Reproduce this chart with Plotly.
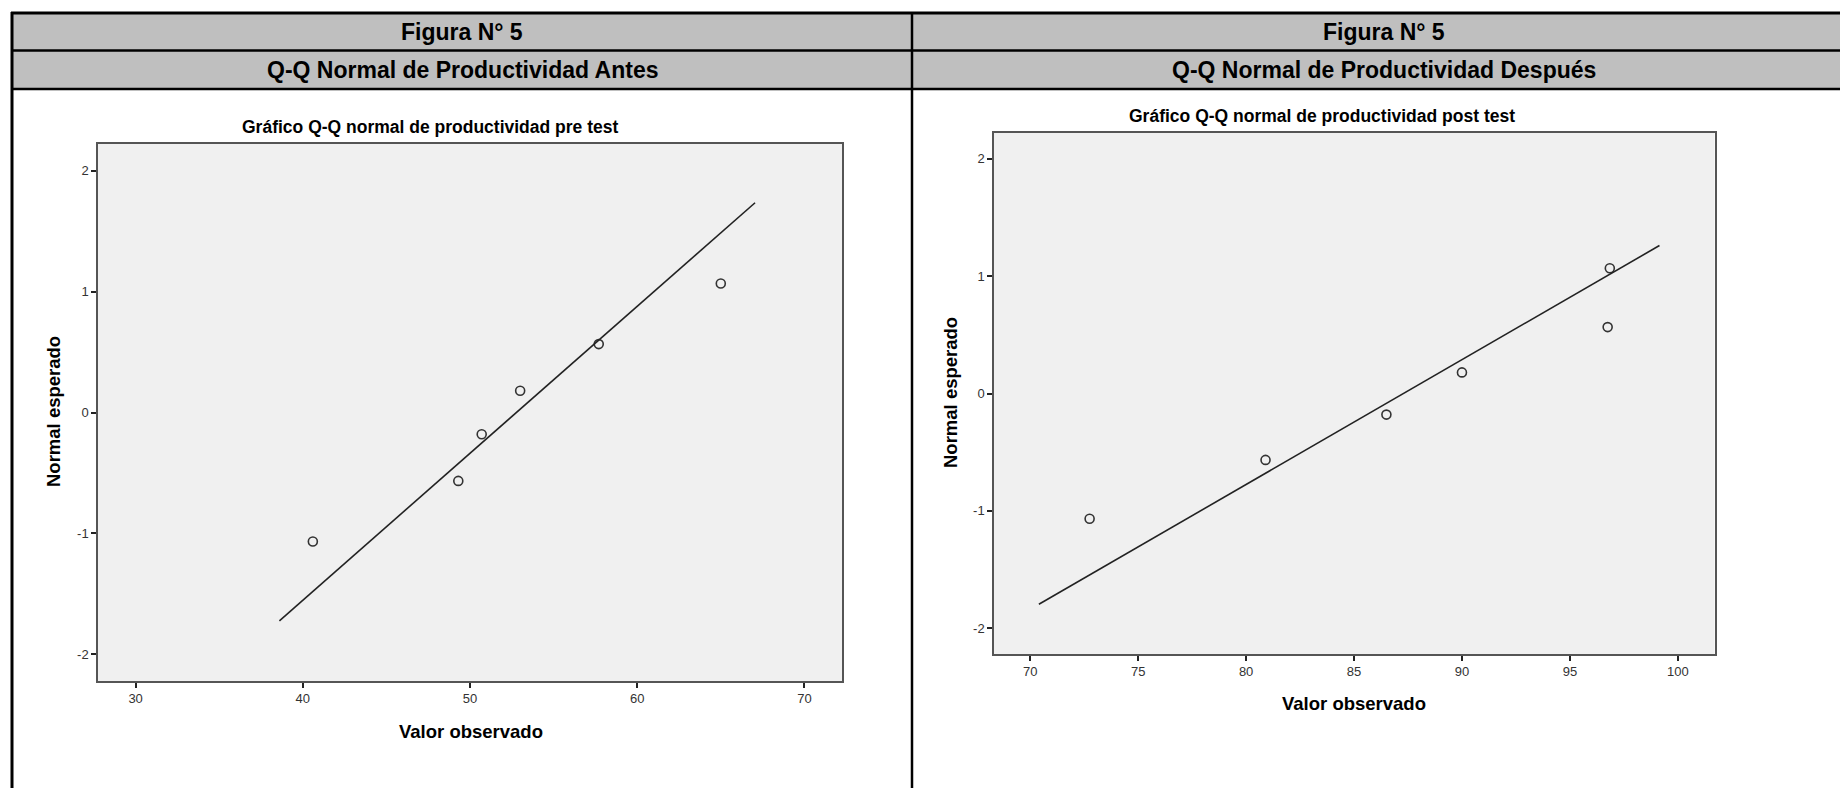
import plotly.graph_objects as go

W, H = 1848, 788

# ---- data ----
pre_observed = [40.6, 49.3, 50.7, 53.0, 57.7, 65.0]
pre_expected = [-1.068, -0.566, -0.180, 0.180, 0.566, 1.068]
pre_line_x = [38.6, 67.05]
pre_line_y = [-1.724, 1.736]

post_observed = [72.75, 80.9, 86.5, 90.0, 96.75, 96.85]
post_expected = [-1.068, -0.566, -0.180, 0.180, 0.566, 1.068]
post_line_x = [70.4, 99.15]
post_line_y = [-1.796, 1.261]

pre_xticks = [30, 40, 50, 60, 70]
post_xticks = [70, 75, 80, 85, 90, 95, 100]
yticks = [-2, -1, 0, 1, 2]
yticklabels = ["-2", "-1", "0", "1", "2"]

header_row1 = ["Figura N° 5", "Figura N° 5"]
header_row2 = ["Q-Q Normal de Productividad Antes", "Q-Q Normal de Productividad Después"]
chart_titles = ["Gráfico Q-Q normal de productividad pre test",
                "Gráfico Q-Q normal de productividad post test"]
x_title = "Valor observado"
y_title = "Normal esperado"


def px(x):
    return x / W


def py(y):
    return 1 - y / H


fig = go.Figure()

marker_style = dict(symbol="circle-open", size=9, color="#333333", line=dict(width=1.6, color="#333333"))

fig.add_trace(go.Scatter(x=pre_observed, y=pre_expected, mode="markers", marker=marker_style,
                         xaxis="x", yaxis="y", showlegend=False))
fig.add_trace(go.Scatter(x=pre_line_x, y=pre_line_y, mode="lines", line=dict(color="#222222", width=1.6),
                         xaxis="x", yaxis="y", showlegend=False))
fig.add_trace(go.Scatter(x=post_observed, y=post_expected, mode="markers", marker=marker_style,
                         xaxis="x2", yaxis="y2", showlegend=False))
fig.add_trace(go.Scatter(x=post_line_x, y=post_line_y, mode="lines", line=dict(color="#222222", width=1.6),
                         xaxis="x2", yaxis="y2", showlegend=False))

tickfont = dict(family="Liberation Sans, Arial, sans-serif", size=13, color="#333333")
axis_common = dict(showgrid=False, zeroline=False, showline=True, mirror=True,
                   linecolor="#555555", linewidth=1.5, ticks="outside", ticklen=5,
                   tickwidth=1.5, tickcolor="#222222", tickfont=tickfont)

fig.update_layout(
    width=W, height=H, autosize=False,
    margin=dict(l=0, r=0, t=0, b=0),
    paper_bgcolor="white", plot_bgcolor="#F0F0F0",
    xaxis=dict(domain=[px(90), px(834)], range=[27.75, 72.25], tickvals=pre_xticks, anchor="y", **axis_common),
    yaxis=dict(domain=[py(673), py(136)], range=[-2.222, 2.222], tickvals=yticks, ticktext=yticklabels,
               anchor="x", **axis_common),
    xaxis2=dict(domain=[px(986), px(1706.5)], range=[68.32, 101.7], tickvals=post_xticks, anchor="y2", **axis_common),
    yaxis2=dict(domain=[py(646), py(125)], range=[-2.22, 2.22], tickvals=yticks, ticktext=yticklabels,
                anchor="x2", **axis_common),
)

shapes = []
# gray header band
shapes.append(dict(type="rect", xref="paper", yref="paper", x0=px(4), x1=1, y0=py(81), y1=py(5),
                   fillcolor="#BFBFBF", line=dict(width=0), layer="below"))
# horizontal table lines
for yy, w in [(5, 3), (42.5, 2.5), (81, 2.5)]:
    shapes.append(dict(type="line", xref="paper", yref="paper", x0=px(3), x1=1, y0=py(yy), y1=py(yy),
                       line=dict(color="black", width=w)))
# vertical lines
for xx, w in [(4, 3), (904, 2.5)]:
    shapes.append(dict(type="line", xref="paper", yref="paper", x0=px(xx), x1=px(xx), y0=0, y1=py(4),
                       line=dict(color="black", width=w)))
fig.update_layout(shapes=shapes)

hdr_font = dict(family="Liberation Sans Narrow, Arial Narrow, Liberation Sans, sans-serif", size=23, color="black")
title_font = dict(family="Liberation Sans, Arial, sans-serif", size=17.5, color="black")
axis_title_font = dict(family="Liberation Sans, Arial, sans-serif", size=18.5, color="black")
ann = []
for cx, t1, t2 in [(454, header_row1[0], header_row2[0]), (1376, header_row1[1], header_row2[1])]:
    ann.append(dict(x=px(cx), y=py(24), text="<b>%s</b>" % t1, font=hdr_font))
    ann.append(dict(x=px(cx), y=py(62), text="<b>%s</b>" % t2, font=hdr_font))
ann.append(dict(x=px(422), y=py(119), text="<b>%s</b>" % chart_titles[0], font=title_font))
ann.append(dict(x=px(1314), y=py(108), text="<b>%s</b>" % chart_titles[1], font=title_font))
ann.append(dict(x=px(463), y=py(723), text="<b>%s</b>" % x_title, font=axis_title_font))
ann.append(dict(x=px(1346), y=py(695), text="<b>%s</b>" % x_title, font=axis_title_font))
ann.append(dict(x=px(45), y=py(404), text="<b>%s</b>" % y_title, font=axis_title_font, textangle=-90))
ann.append(dict(x=px(943), y=py(385), text="<b>%s</b>" % y_title, font=axis_title_font, textangle=-90))
for a in ann:
    a.update(xref="paper", yref="paper", showarrow=False, xanchor="center", yanchor="middle")
fig.update_layout(annotations=ann)

fig.write_html("out.html")
